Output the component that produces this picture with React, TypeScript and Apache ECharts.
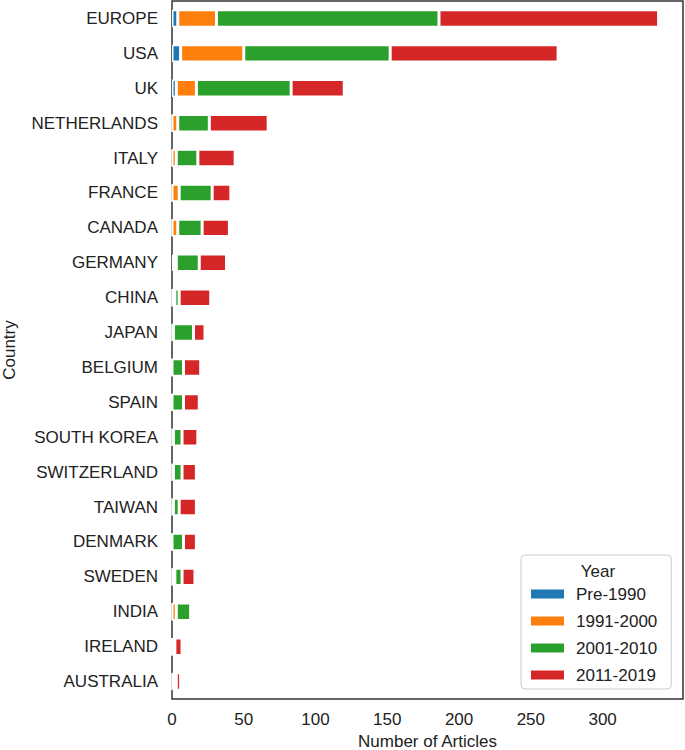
import React, { useEffect, useRef } from "react";
import * as echarts from "echarts";

const categories = [
  "EUROPE", "USA", "UK", "NETHERLANDS", "ITALY", "FRANCE", "CANADA", "GERMANY",
  "CHINA", "JAPAN", "BELGIUM", "SPAIN", "SOUTH KOREA", "SWITZERLAND", "TAIWAN",
  "DENMARK", "SWEDEN", "INDIA", "IRELAND", "AUSTRALIA",
];
const seriesNames = ["Pre-1990", "1991-2000", "2001-2010", "2011-2019"];
const pre1990 = [4, 6, 3, 0, 0, 0, 0, 1, 0, 0, 0, 0, 0, 0, 0, 0, 0, 0, 0, 0];
const y1991 = [27, 44, 14, 4, 3, 5, 4, 2, 2, 1, 0, 0, 1, 1, 1, 0, 2, 3, 0, 1];
const y2001 = [155, 102, 66, 22, 15, 23, 17, 16, 3, 14, 8, 8, 6, 6, 4, 8, 5, 10, 2, 2];
const y2011 = [153, 117, 37, 41, 26, 13, 19, 19, 22, 8, 12, 11, 11, 10, 12, 9, 9, 2, 5, 3];
const colors = ["#1f77b4", "#ff7f0e", "#2ca02c", "#d62728"];
const xTicks = [0, 50, 100, 150, 200, 250, 300];

const FONT = "'Liberation Sans', Arial, sans-serif";

export default function App() {
  const ref = useRef<HTMLDivElement>(null);
  useEffect(() => {
    document.body.style.margin = "0";
    const chart = echarts.init(ref.current!, null, { renderer: "svg" });
    const data = [pre1990, y1991, y2001, y2011];
    chart.setOption({
      animation: false,
      textStyle: { fontFamily: FONT },
      grid: {
        left: 172,
        right: 2,
        top: 1,
        bottom: 51,
        show: true,
        borderColor: "#333",
        borderWidth: 1.5,
        containLabel: false,
        outerBoundsMode: "none",
      },
      xAxis: {
        type: "value",
        min: 0,
        max: 356,
        interval: 50,
        splitLine: { show: false },
        axisLine: { show: false },
        axisTick: { show: false },
        axisLabel: {
          fontSize: 17,
          color: "#222",
          margin: 12,
          fontFamily: FONT,
          formatter: (v: number) => (xTicks.includes(v) ? String(v) : ""),
        },
        name: "Number of Articles",
        nameLocation: "middle",
        nameGap: 36,
        nameTextStyle: { fontSize: 17, color: "#222", fontFamily: FONT, lineHeight: 13 },
      },
      yAxis: {
        type: "category",
        inverse: true,
        data: categories,
        axisLine: { show: false },
        axisTick: { show: false },
        splitLine: { show: false },
        axisLabel: { fontSize: 17, color: "#222", margin: 14, fontFamily: FONT },
        name: "Country",
        nameLocation: "middle",
        nameGap: 154,
        nameRotate: 90,
        nameTextStyle: { fontSize: 17, color: "#222", fontFamily: FONT, lineHeight: 17 },
      },
      legend: {
        orient: "vertical",
        left: 521,
        top: 555,
        padding: [29, 14, 4, 8],
        borderColor: "#ccc",
        borderWidth: 1,
        borderRadius: 4,
        backgroundColor: "#fff",
        itemWidth: 35,
        itemHeight: 11,
        itemGap: 7,
        icon: "rect",
        data: seriesNames,
        textStyle: { fontSize: 17, color: "#222", lineHeight: 20, fontFamily: FONT, padding: [0, 0, 0, 6] },
      },
      graphic: [
        {
          type: "text",
          x: 598,
          y: 571,
          z: 100,
          style: {
            text: "Year",
            font: `17px ${FONT}`,
            fill: "#222",
            textAlign: "center",
            textVerticalAlign: "middle",
          },
        },
      ],
      series: seriesNames.map((name, i) => ({
        name,
        type: "bar",
        stack: "total",
        barWidth: "50%",
        data: data[i],
        itemStyle: { color: colors[i], borderColor: "#fff", borderWidth: 1.5 },
      })),
    });
    return () => chart.dispose();
  }, []);
  return <div ref={ref} style={{ width: 685, height: 750 }} />;
}
